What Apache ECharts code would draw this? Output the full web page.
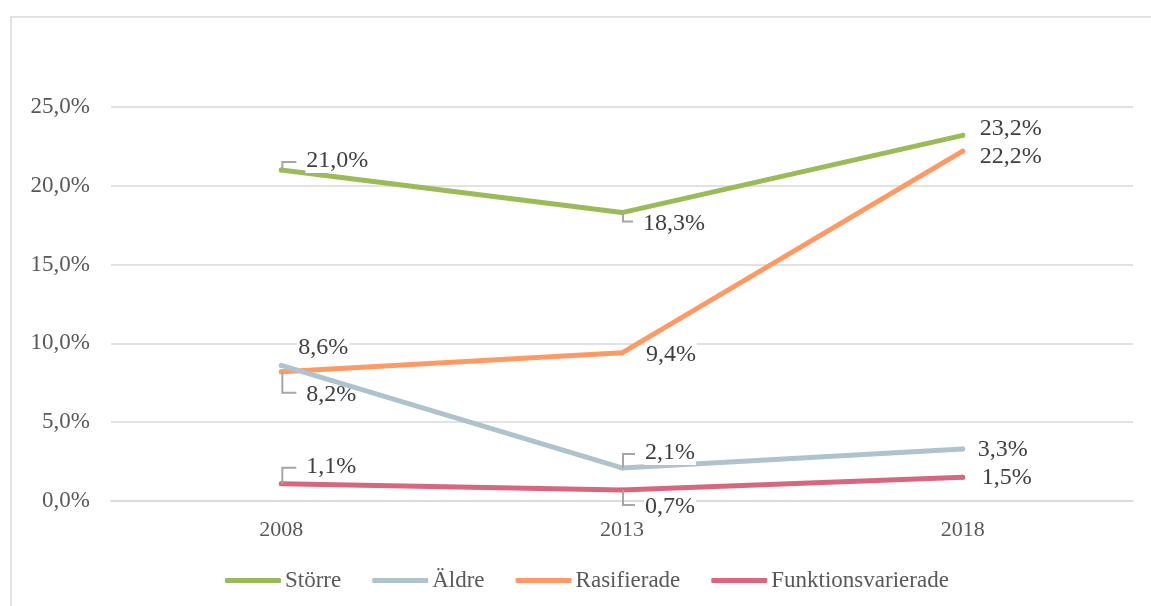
<!doctype html>
<html lang="sv">
<head>
	<meta charset="UTF-8">
	<title>Andel per grupp</title>
	<script src="https://cdn.jsdelivr.net/npm/echarts@6/dist/echarts.min.js"></script>
	<style>
		html, body { margin: 0; padding: 0; background: #fff; }
		#chart { width: 1151px; height: 606px; }
	</style>
</head>
<body>
	<div id="chart"></div>
	<script>
		// data
		var years = ['2008', '2013', '2018'];
		var seriesNames = ['Större', 'Äldre', 'Rasifierade', 'Funktionsvarierade'];
		var storre = [21.0, 18.3, 23.2];
		var aldre = [8.6, 2.1, 3.3];
		var rasifierade = [8.2, 9.4, 22.2];
		var funktionsvarierade = [1.1, 0.7, 1.5];
		var yTicks = [0, 5, 10, 15, 20, 25];

		var colors = ['#9BBB59', '#AFC3CF', '#FF9966', '#D9667F'];

		// label placement: [dx, dy] from the point
		var labelOffsets = [
			[[24, -9], [20, 11], [16, -7]],
			[[16, -18], [22, -15], [14, 1]],
			[[24, 23], [23, 2], [16, 6]],
			[[24, -17], [22, 17], [18, 0]]
		];
		// elbow leaders (Excel style): which points get one
		var leaders = [
			[true, true, false],
			[false, true, false],
			[true, false, false],
			[true, true, false]
		];

		function fmt(v) {
			return v.toFixed(1).replace('.', ',') + '%';
		}

		var values = [storre, aldre, rasifierade, funktionsvarierade];

		var chart = echarts.init(document.getElementById('chart'));

		var series = values.map(function (vals, s) {
			return {
				name: seriesNames[s],
				type: 'line',
				z: 3 - s,
				symbol: 'circle',
				symbolSize: 5,
				showSymbol: true,
				lineStyle: { width: 5, color: colors[s], cap: 'round', join: 'round' },
				itemStyle: { color: colors[s] },
				label: {
					show: true,
					position: 'right',
					distance: 0,
					fontFamily: 'Liberation Serif',
					fontSize: 24,
					color: '#404040',
					backgroundColor: '#fff',
					padding: [0, 1],
					formatter: function (p) { return fmt(p.value); }
				},
				labelLayout: function (p) {
					var o = labelOffsets[s][p.dataIndex];
					var cx = p.rect.x + p.rect.width / 2;
					var cy = p.rect.y + p.rect.height / 2;
					return { x: cx + o[0], y: cy + o[1], align: 'left', verticalAlign: 'middle' };
				},
				data: vals
			};
		});

		// leader lines drawn with a custom series, anchored on the data points
		var leaderData = [];
		values.forEach(function (vals, s) {
			vals.forEach(function (v, i) {
				if (leaders[s][i]) leaderData.push([i, v, s]);
			});
		});
		series.push({
			type: 'custom',
			name: 'leaders',
			z: 5,
			silent: true,
			data: leaderData,
			encode: { x: 0, y: 1 },
			renderItem: function (params, api) {
				var i = api.value(0), s = api.value(2);
				var p = api.coord([i, api.value(1)]);
				var o = labelOffsets[s][i];
				var x = p[0] + 1, y = p[1];
				var ty = y + o[1] + (o[1] < 0 ? 1 : -2);
				return {
					type: 'polyline',
					shape: { points: [[x, y], [x, ty], [p[0] + o[0] - 9, ty]] },
					style: { stroke: '#A6A6A6', lineWidth: 2, fill: null }
				};
			}
		});

		var option = {
			animation: false,
			graphic: [{
				type: 'rect',
				shape: { x: 11, y: 17, width: 1300, height: 800 },
				style: { fill: 'none', stroke: '#D9D9D9', lineWidth: 1.5 },
				silent: true
			}],
			grid: { left: 111, right: 18, top: 107, bottom: 105 },
			legend: {
				data: seriesNames,
				left: 220,
				top: 564,
				icon: 'roundRect',
				itemWidth: 56,
				itemHeight: 5,
				itemGap: 31,
				textStyle: { fontFamily: 'Liberation Serif', fontSize: 23, color: '#595959', padding: [0, 0, 0, -1] }
			},
			xAxis: {
				type: 'category',
				data: years,
				boundaryGap: true,
				axisLine: { lineStyle: { color: '#D9D9D9', width: 1.5 } },
				axisTick: { show: false },
				axisLabel: { fontFamily: 'Liberation Serif', fontSize: 22, color: '#595959', margin: 18 }
			},
			yAxis: {
				type: 'value',
				min: yTicks[0],
				max: yTicks[yTicks.length - 1],
				interval: 5,
				axisLine: { show: false },
				axisTick: { show: false },
				splitLine: { lineStyle: { color: '#D9D9D9', width: 1.5 } },
				axisLabel: {
					fontFamily: 'Liberation Serif', fontSize: 23, color: '#595959', margin: 21,
					formatter: function (v) { return fmt(v); }
				}
			},
			series: series
		};

		chart.setOption(option);
	</script>
</body>
</html>
